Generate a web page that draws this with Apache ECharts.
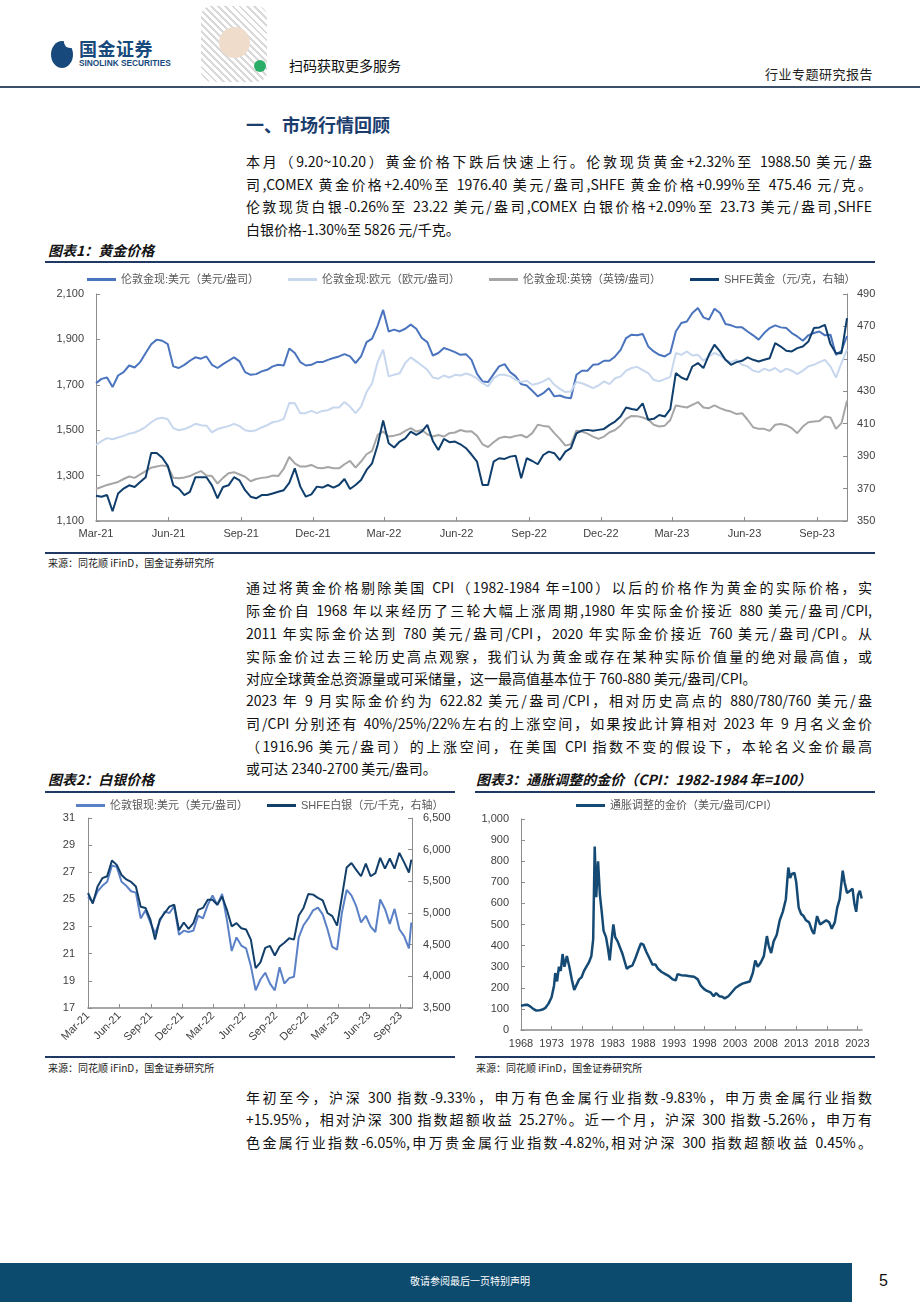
<!DOCTYPE html>
<html><head><meta charset="utf-8">
<script src="https://cdn.jsdelivr.net/npm/echarts@6/dist/echarts.min.js"></script>
<style>
body{margin:0;background:#fff;}
#page{position:relative;width:920px;height:1302px;overflow:hidden;background:#fff;font-family:"Noto Sans CJK SC","Noto Sans",sans-serif;color:#000;}
.abs{position:absolute;}
.ln{position:absolute;left:246px;width:626px;height:22px;line-height:22px;font-size:14px;white-space:nowrap;text-align:justify;text-align-last:justify;color:#111;}
.ln.last{text-align-last:left;}
.ctitle{position:absolute;font-size:14px;font-weight:bold;font-style:italic;color:#111;height:20px;line-height:20px;}
.rule{position:absolute;height:2px;background:#1f3864;}
.src{position:absolute;font-size:10px;color:#222;height:14px;line-height:14px;}
.chart{position:absolute;}
</style></head>
<body><div id="page">
<!-- header -->
<div class="abs" style="left:51px;top:41px;width:22px;height:27px;border-radius:50%;background:#17497c;"></div>
<div class="abs" style="left:64px;top:38px;width:9px;height:10px;background:#fff;border-radius:0 0 0 6px;"></div>
<div class="abs" style="left:79px;top:37px;font-size:18px;font-weight:bold;color:#17497c;letter-spacing:0.5px;line-height:22px;">国金证券</div>
<div class="abs" style="left:79px;top:58px;font-size:8.3px;font-weight:bold;color:#17497c;line-height:10px;font-family:'Liberation Sans',sans-serif;">SINOLINK SECURITIES</div>
<div class="abs" style="left:201px;top:6px;width:66px;height:76px;border-radius:10px;background:repeating-linear-gradient(45deg,#bbb 0 2px,#fff 2px 5px),repeating-linear-gradient(-45deg,#999 0 1px,#fff 1px 4px);opacity:0.55;"></div>
<div class="abs" style="left:219px;top:27px;width:31px;height:31px;border-radius:50%;background:#f0dccb;"></div>
<div class="abs" style="left:254px;top:60px;width:12px;height:12px;border-radius:50%;background:#2aae67;"></div>
<div class="abs" style="left:289px;top:55px;font-size:14px;line-height:20px;color:#111;">扫码获取更多服务</div>
<div class="abs" style="left:765px;top:65px;font-size:13px;line-height:18px;color:#222;letter-spacing:0.5px;">行业专题研究报告</div>
<div class="abs" style="left:0;top:86px;width:920px;height:2px;background:#3b4f6b;"></div>

<!-- section -->
<div class="abs" style="left:246px;top:112px;font-size:18px;font-weight:bold;color:#1b3d6d;line-height:24px;">一、市场行情回顾</div>
<div class="ln" style="top:150px;">本月（9.20~10.20）黄金价格下跌后快速上行。伦敦现货黄金+2.32%至 1988.50 美元/盎</div>
<div class="ln" style="top:173px;">司,COMEX 黄金价格+2.40%至 1976.40 美元/盎司,SHFE 黄金价格+0.99%至 475.46 元/克。</div>
<div class="ln" style="top:195px;">伦敦现货白银-0.26%至 23.22 美元/盎司,COMEX 白银价格+2.09%至 23.73 美元/盎司,SHFE</div>
<div class="ln last" style="top:218px;">白银价格-1.30%至 5826 元/千克。</div>

<div class="ctitle" style="left:48px;top:240px;">图表1：黄金价格</div>
<div class="rule" style="left:45px;top:261px;width:830px;"></div>
<div id="c1" class="chart" style="left:40px;top:265px;width:840px;height:285px;"></div>
<div class="rule" style="left:45px;top:552px;width:830px;"></div>
<div class="src" style="left:48px;top:556px;">来源：同花顺 iFinD，国金证券研究所</div>

<div class="ln" style="top:576px;">通过将黄金价格剔除美国 CPI（1982-1984 年=100）以后的价格作为黄金的实际价格，实</div>
<div class="ln" style="top:599px;">际金价自 1968 年以来经历了三轮大幅上涨周期,1980 年实际金价接近 880 美元/盎司/CPI,</div>
<div class="ln" style="top:622px;">2011 年实际金价达到 780 美元/盎司/CPI，2020 年实际金价接近 760 美元/盎司/CPI。从</div>
<div class="ln" style="top:645px;">实际金价过去三轮历史高点观察，我们认为黄金或存在某种实际价值量的绝对最高值，或</div>
<div class="ln last" style="top:667px;">对应全球黄金总资源量或可采储量，这一最高值基本位于 760-880 美元/盎司/CPI。</div>

<div class="ln" style="top:689px;">2023 年 9 月实际金价约为 622.82 美元/盎司/CPI，相对历史高点的 880/780/760 美元/盎</div>
<div class="ln" style="top:712px;">司/CPI 分别还有 40%/25%/22%左右的上涨空间，如果按此计算相对 2023 年 9 月名义金价</div>
<div class="ln" style="top:735px;">（1916.96 美元/盎司）的上涨空间，在美国 CPI 指数不变的假设下，本轮名义金价最高</div>
<div class="ln last" style="top:757px;">或可达 2340-2700 美元/盎司。</div>

<div class="ctitle" style="left:48px;top:769px;">图表2：白银价格</div>
<div class="ctitle" style="left:476px;top:769px;">图表3：通胀调整的金价（CPI：1982-1984 年=100）</div>
<div class="rule" style="left:45px;top:791px;width:410px;"></div>
<div class="rule" style="left:475px;top:791px;width:400px;"></div>
<div id="c2" class="chart" style="left:40px;top:795px;width:420px;height:260px;"></div>
<div id="c3" class="chart" style="left:470px;top:795px;width:410px;height:260px;"></div>
<div class="rule" style="left:45px;top:1056px;width:410px;"></div>
<div class="rule" style="left:475px;top:1056px;width:400px;"></div>
<div class="src" style="left:48px;top:1061px;">来源：同花顺 iFinD，国金证券研究所</div>
<div class="src" style="left:476px;top:1061px;">来源：同花顺 iFinD，国金证券研究所</div>

<div class="ln" style="top:1086px;">年初至今，沪深 300 指数-9.33%，申万有色金属行业指数-9.83%，申万贵金属行业指数</div>
<div class="ln" style="top:1108px;">+15.95%，相对沪深 300 指数超额收益 25.27%。近一个月，沪深 300 指数-5.26%，申万有</div>
<div class="ln" style="top:1131px;">色金属行业指数-6.05%,申万贵金属行业指数-4.82%,相对沪深 300 指数超额收益 0.45%。</div>

<!-- footer -->
<div class="abs" style="left:0;top:1263px;width:852px;height:39px;background:#0c4a6e;"></div>
<div class="abs" style="left:0;top:1274px;width:940px;text-align:center;font-size:10px;line-height:14px;color:#fff;">敬请参阅最后一页特别声明</div>
<div class="abs" style="left:879px;top:1270px;font-size:16px;line-height:22px;color:#111;font-family:'Liberation Sans',sans-serif;">5</div>
</div>
<script>
// ---------------- data ----------------
const goldDates = ['2021-03-01','2021-03-08','2021-03-15','2021-03-22','2021-03-29','2021-04-05','2021-04-12','2021-04-19','2021-04-26','2021-05-03',
'2021-05-10','2021-05-17','2021-05-24','2021-05-31','2021-06-07','2021-06-14','2021-06-21','2021-06-28','2021-07-05','2021-07-12',
'2021-07-19','2021-07-26','2021-08-02','2021-08-09','2021-08-16','2021-08-23','2021-08-30','2021-09-06','2021-09-13','2021-09-20',
'2021-09-27','2021-10-04','2021-10-11','2021-10-18','2021-10-25','2021-11-01','2021-11-08','2021-11-15','2021-11-22','2021-11-29',
'2021-12-06','2021-12-13','2021-12-20','2021-12-27','2022-01-03','2022-01-10','2022-01-17','2022-01-24','2022-01-31','2022-02-07',
'2022-02-14','2022-02-21','2022-02-28','2022-03-07','2022-03-14','2022-03-21','2022-03-28','2022-04-04','2022-04-11','2022-04-18',
'2022-04-25','2022-05-02','2022-05-09','2022-05-16','2022-05-23','2022-05-30','2022-06-06','2022-06-13','2022-06-20','2022-06-27',
'2022-07-04','2022-07-11','2022-07-18','2022-07-25','2022-08-01','2022-08-08','2022-08-15','2022-08-22','2022-08-29','2022-09-05',
'2022-09-12','2022-09-19','2022-09-26','2022-10-03','2022-10-10','2022-10-17','2022-10-24','2022-10-31','2022-11-07','2022-11-14',
'2022-11-21','2022-11-28','2022-12-05','2022-12-12','2022-12-19','2022-12-26','2023-01-02','2023-01-09','2023-01-16','2023-01-23',
'2023-01-30','2023-02-06','2023-02-13','2023-02-20','2023-02-27','2023-03-06','2023-03-13','2023-03-20','2023-03-27','2023-04-03',
'2023-04-10','2023-04-17','2023-04-24','2023-05-01','2023-05-08','2023-05-15','2023-05-22','2023-05-29','2023-06-05','2023-06-12',
'2023-06-19','2023-06-26','2023-07-03','2023-07-10','2023-07-17','2023-07-24','2023-07-31','2023-08-07','2023-08-14','2023-08-21',
'2023-08-28','2023-09-04','2023-09-11','2023-09-18','2023-09-25','2023-10-02','2023-10-09'];
const goldUSD = [1707,1726,1732,1690,1741,1756,1785,1776,1800,1840,
1879,1899,1894,1879,1781,1774,1788,1806,1821,1815,
1825,1788,1774,1791,1806,1821,1803,1756,1744,1747,
1759,1766,1781,1788,1785,1860,1840,1800,1785,1788,
1800,1800,1810,1818,1825,1835,1825,1796,1825,1888,
1903,1960,2030,1935,1943,1935,1947,1965,1947,1906,
1888,1829,1840,1862,1854,1844,1832,1835,1810,1748,
1715,1712,1747,1781,1791,1756,1737,1703,1697,1674,
1649,1663,1685,1649,1653,1644,1641,1744,1762,1762,
1788,1791,1806,1806,1825,1854,1906,1921,1918,1924,
1869,1847,1832,1825,1840,1935,1972,1979,2016,2038,
1997,1987,2035,2016,1968,1962,1953,1953,1935,1918,
1899,1928,1950,1962,1953,1950,1928,1913,1894,1918,
1928,1935,1918,1921,1832,1850,1915];
const goldEUR = [1435,1452,1465,1460,1468,1475,1485,1490,1500,1515,
1535,1550,1555,1548,1509,1500,1505,1515,1528,1522,
1520,1490,1505,1512,1518,1528,1518,1500,1495,1500,
1512,1522,1535,1540,1550,1620,1619,1575,1575,1585,
1575,1585,1588,1600,1600,1624,1604,1575,1604,1668,
1707,1800,1855,1737,1744,1751,1796,1821,1803,1785,
1766,1732,1727,1741,1732,1744,1741,1750,1742,1728,
1707,1693,1729,1744,1744,1737,1722,1712,1718,1700,
1706,1715,1729,1700,1682,1668,1671,1712,1707,1697,
1685,1697,1715,1703,1729,1737,1762,1774,1779,1765,
1751,1722,1715,1725,1735,1840,1832,1847,1829,1832,
1806,1825,1840,1829,1810,1800,1810,1788,1781,1762,
1756,1771,1762,1774,1756,1771,1762,1747,1762,1781,
1788,1800,1810,1781,1732,1796,1855];
const goldGBP = [1241,1250,1259,1265,1272,1285,1296,1290,1305,1320,
1335,1340,1345,1340,1290,1288,1292,1298,1310,1320,
1300,1298,1265,1290,1310,1315,1305,1295,1275,1285,
1290,1293,1300,1298,1330,1382,1354,1340,1340,1347,
1335,1332,1338,1332,1332,1350,1365,1335,1362,1394,
1409,1479,1494,1472,1476,1482,1497,1509,1494,1501,
1482,1472,1479,1472,1487,1490,1501,1494,1495,1475,
1438,1426,1447,1465,1471,1468,1475,1479,1468,1487,
1524,1519,1516,1487,1462,1432,1438,1498,1494,1485,
1472,1462,1472,1491,1501,1521,1550,1563,1562,1556,
1547,1524,1516,1520,1545,1609,1604,1600,1612,1624,
1600,1597,1609,1597,1588,1582,1571,1575,1546,1513,
1506,1506,1497,1524,1527,1522,1509,1487,1516,1535,
1538,1541,1560,1556,1506,1531,1630];
const goldSHFE = [365.6,365,366,356,367,370,372,371,374,377,
392,392,389,384,372,370,366,368,377,377,
377,372,364,371,372,377,375,369,365,364,
366,366,367,368,369,373.5,382.5,371.2,365,366.4,
371.2,370.6,372.2,370.6,372.2,375.9,369.7,372.2,375.3,381.5,
385.6,396.9,412,398,395.3,399,401,405.1,403.1,405.1,
409.3,399.4,393.8,400.6,398.6,399,397.3,394.9,391,386.6,
372.2,372.2,386.6,388.7,388.3,389.7,390.3,376.3,388.7,387,
385,390.7,392.8,391.8,387.6,392.8,394.9,404.1,405.8,406.2,
405.6,406.2,406.8,409.3,411.3,414.4,420,419.1,418.5,422.6,
412.4,413,415.4,414.4,419,441.2,438.5,437,445.3,447.4,
444.3,452.5,458.7,454.6,449.4,446.3,448,448.8,450.9,449.4,
448.4,449.4,450.4,459.7,457.6,455,454.6,456.6,457.6,460.7,
469,469.4,471,459.1,453.5,453.5,475.1];

const silverDates = ['2021-03-01','2021-03-15','2021-03-29','2021-04-12','2021-04-26','2021-05-10','2021-05-24','2021-06-07','2021-06-21','2021-07-05',
'2021-07-19','2021-08-02','2021-08-16','2021-08-30','2021-09-13','2021-09-27','2021-10-11','2021-10-25','2021-11-08','2021-11-22',
'2021-12-06','2021-12-20','2022-01-03','2022-01-17','2022-01-31','2022-02-14','2022-02-28','2022-03-14','2022-03-28','2022-04-11',
'2022-04-25','2022-05-09','2022-05-23','2022-06-06','2022-06-20','2022-07-04','2022-07-18','2022-08-01','2022-08-15','2022-08-29',
'2022-09-12','2022-09-26','2022-10-10','2022-10-24','2022-11-07','2022-11-21','2022-12-05','2022-12-19','2023-01-02','2023-01-16',
'2023-01-30','2023-02-13','2023-02-27','2023-03-13','2023-03-27','2023-04-10','2023-04-24','2023-05-08','2023-05-22','2023-06-05',
'2023-06-19','2023-07-03','2023-07-17','2023-07-31','2023-08-14','2023-08-28','2023-09-11','2023-09-25','2023-10-02'];
const silverUSD = [25.2,24.8,25.6,26.0,26.3,27.5,27.4,26.3,26.0,25.6,
25.5,23.6,24.2,23.3,22.5,23.4,24.1,24.0,24.5,22.4,
22.7,22.6,22.7,23.8,23.6,24.6,25.3,24.6,25.4,23.5,
21.2,22.2,21.6,21.4,20.1,18.3,19.1,19.6,18.8,18.3,
20.0,18.8,19.2,19.3,22.2,23.1,23.6,24.2,24.4,23.9,
22.8,21.5,21.3,24.0,25.7,25.3,24.5,23.3,23.8,23.0,
22.6,25.0,24.3,23.2,24.3,22.8,22.3,21.4,23.3];
const silverSHFE = [5316,5150,5420,5550,5580,5830,5760,5600,5530,5490,
5420,5100,5080,4900,4580,4900,5000,5100,5130,4730,
4850,4750,4840,5050,5080,5210,5210,5130,5260,5050,
4790,4840,4760,4740,4580,4130,4220,4450,4480,4330,
4470,4530,4600,4580,4960,5080,5300,5290,5240,5200,
5000,4950,4800,5250,5720,5790,5680,5580,5780,5580,
5630,5870,5700,5860,5700,5950,5800,5640,5842];

const cpiYears = [1968.0,1968.5,1969.0,1969.5,1970.0,1970.5,1971.0,1971.5,1972.0,1972.5,
1973.0,1973.4,1973.6,1973.9,1974.2,1974.5,1974.8,1975.1,1975.5,1975.9,
1976.3,1976.7,1977.1,1977.5,1977.9,1978.3,1978.7,1979.1,1979.5,1979.8,
1980.05,1980.3,1980.6,1980.9,1981.2,1981.5,1981.9,1982.2,1982.5,1982.8,
1983.1,1983.4,1983.8,1984.2,1984.6,1985.0,1985.3,1985.7,1986.2,1986.7,
1987.2,1987.6,1988.0,1988.5,1989.0,1989.5,1990.0,1990.4,1991.0,1991.6,
1992.2,1992.8,1993.3,1993.6,1994.2,1994.9,1995.6,1996.3,1996.9,1997.4,
1997.9,1998.4,1999.0,1999.5,1999.9,2000.4,2000.9,2001.3,2001.9,2002.5,
2003.1,2003.6,2004.2,2004.8,2005.4,2005.9,2006.3,2006.7,2007.2,2007.7,
2008.2,2008.5,2008.9,2009.3,2009.8,2010.3,2010.8,2011.3,2011.7,2012.0,
2012.3,2012.7,2013.0,2013.4,2013.8,2014.2,2014.6,2015.1,2015.6,2015.9,
2016.4,2016.9,2017.4,2017.9,2018.4,2018.8,2019.3,2019.7,2020.1,2020.6,
2020.9,2021.3,2021.8,2022.2,2022.5,2022.8,2023.1,2023.4,2023.7];
const cpiGold = [115,118,120,112,100,92,93,97,105,125,
155,210,270,230,300,280,360,300,350,300,
240,190,215,240,250,280,300,320,350,430,
870,630,800,640,560,470,440,390,330,420,
500,440,420,390,360,320,290,300,305,340,
380,410,405,370,340,310,310,290,275,265,
255,240,235,265,260,258,255,252,240,210,
195,185,178,160,175,160,158,150,160,180,
200,210,220,225,230,270,330,300,320,350,
445,400,365,420,450,520,560,620,770,720,
740,745,700,580,550,540,520,510,470,455,
540,500,510,520,510,480,510,580,620,755,
700,650,660,670,600,560,640,660,623];

const quarterTickDates = ['2021-03-01','2021-06-01','2021-09-01','2021-12-01','2022-03-01','2022-06-01','2022-09-01','2022-12-01','2023-03-01','2023-06-01','2023-09-01'];
const quarterTickLabels = ['Mar-21','Jun-21','Sep-21','Dec-21','Mar-22','Jun-22','Sep-22','Dec-22','Mar-23','Jun-23','Sep-23'];
const goldLeftTicks = [1100,1300,1500,1700,1900,2100];
const goldRightTicks = [350,370,390,410,430,450,470,490];
const silverLeftTicks = [17,19,21,23,25,27,29,31];
const cpiYearTicks = [1968,1973,1978,1983,1988,1993,1998,2003,2008,2013,2018,2023];

const names1 = ['伦敦金现:美元（美元/盎司）','伦敦金现:欧元（欧元/盎司）','伦敦金现:英镑（英镑/盎司）','SHFE黄金（元/克，右轴）'];
const names2 = ['伦敦银现:美元（美元/盎司）','SHFE白银（元/千克，右轴）'];
const names3 = ['通胀调整的金价（美元/盎司/CPI）'];

// ---------------- helpers ----------------
const FONT = '"Liberation Sans", Arial, "Noto Sans CJK SC", sans-serif';
const BASE = Date.UTC(2021,2,1);
function dayOf(s){const p=s.split('-').map(Number);return (Date.UTC(p[0],p[1]-1,p[2])-BASE)/86400000;}
const qDays = quarterTickDates.map(dayOf);
function qLabel(v){const i=qDays.findIndex(d=>Math.abs(d-v)<0.5);return i<0?'':quarterTickLabels[i];}
function pairs(xs,ys){return xs.map((x,i)=>[x,ys[i]]);}
const fmtNum = v => Number(v).toLocaleString('en-US');
const AX = '#8c8c8c', LBL = '#404040';

function legendItem(name,left,top){
  return {data:[name],left:left,top:top,icon:'rect',itemWidth:29,itemHeight:3,padding:0,
    textStyle:{fontSize:11,color:'#595959',fontFamily:FONT}};
}
function yAx(opt){
  return Object.assign({type:'value',splitLine:{show:false},
    axisLine:{show:true,lineStyle:{color:AX,width:1}},
    axisTick:{show:true,inside:true,length:4,lineStyle:{color:AX}},
    axisLabel:{color:LBL,fontSize:11,fontFamily:FONT}},opt);
}

// ---------------- chart 1 ----------------
const c1 = echarts.init(document.getElementById('c1'));
const gDays = goldDates.map(dayOf);
c1.setOption({
  animation:false, textStyle:{fontFamily:FONT},
  grid:{left:56,right:33,top:29,bottom:29},
  legend:[legendItem(names1[0],47,9),legendItem(names1[1],248,9),legendItem(names1[2],449,9),legendItem(names1[3],650,9)],
  xAxis:{type:'value',min:0,max:dayOf('2023-10-09'),splitLine:{show:false},
    axisLine:{lineStyle:{color:AX,width:1.5}},
    axisTick:{inside:true,length:4,customValues:qDays,lineStyle:{color:AX}},
    axisLabel:{customValues:qDays,formatter:qLabel,color:LBL,fontSize:11,margin:7}},
  yAxis:[
    yAx({min:1100,max:2100,position:'left',axisTick:{show:true,inside:true,length:4,customValues:goldLeftTicks,lineStyle:{color:AX}},
      axisLabel:{customValues:goldLeftTicks,formatter:fmtNum,color:LBL,fontSize:11,margin:12}}),
    yAx({min:350,max:490,position:'right',axisTick:{show:true,inside:true,length:4,customValues:goldRightTicks,lineStyle:{color:AX}},
      axisLabel:{customValues:goldRightTicks,formatter:fmtNum,color:LBL,fontSize:11,margin:10}})
  ],
  series:[
    {name:names1[0],type:'line',showSymbol:false,data:pairs(gDays,goldUSD),color:'#4a74bd',lineStyle:{width:2}},
    {name:names1[1],type:'line',showSymbol:false,data:pairs(gDays,goldEUR),color:'#c7d7ee',lineStyle:{width:2}},
    {name:names1[2],type:'line',showSymbol:false,data:pairs(gDays,goldGBP),color:'#a6a6a6',lineStyle:{width:2}},
    {name:names1[3],type:'line',showSymbol:false,yAxisIndex:1,data:pairs(gDays,goldSHFE),color:'#0f3e6c',lineStyle:{width:2}}
  ]
});

// ---------------- chart 2 ----------------
const c2 = echarts.init(document.getElementById('c2'));
const sDays = silverDates.map(dayOf);
c2.setOption({
  animation:false, textStyle:{fontFamily:FONT},
  grid:{left:48,right:48,top:23,bottom:47},
  legend:[legendItem(names2[0],36,5),legendItem(names2[1],227,5)],
  xAxis:{type:'value',min:0,max:dayOf('2023-10-04'),splitLine:{show:false},
    axisLine:{lineStyle:{color:AX,width:1.5}},
    axisTick:{inside:true,length:4,customValues:qDays,lineStyle:{color:AX}},
    axisLabel:{customValues:qDays,formatter:qLabel,rotate:45,color:LBL,fontSize:11,margin:6}},
  yAxis:[
    yAx({min:17,max:31,position:'left',axisTick:{show:true,inside:true,length:4,customValues:silverLeftTicks,lineStyle:{color:AX}},
      axisLabel:{customValues:silverLeftTicks,color:LBL,fontSize:11,margin:13}}),
    yAx({min:3500,max:6500,interval:500,position:'right',axisLabel:{formatter:fmtNum,color:LBL,fontSize:11,margin:11}})
  ],
  series:[
    {name:names2[0],type:'line',showSymbol:false,data:pairs(sDays,silverUSD),color:'#5a80c6',lineStyle:{width:2}},
    {name:names2[1],type:'line',showSymbol:false,yAxisIndex:1,data:pairs(sDays,silverSHFE),color:'#123f6a',lineStyle:{width:2}}
  ]
});

// ---------------- chart 3 ----------------
const c3 = echarts.init(document.getElementById('c3'));
c3.setOption({
  animation:false, textStyle:{fontFamily:FONT},
  grid:{left:51,right:18,top:24,bottom:25},
  legend:[legendItem(names3[0],106,5)],
  xAxis:{type:'value',min:1968,max:2023.75,splitLine:{show:false},
    axisLine:{lineStyle:{color:AX,width:1.5}},
    axisTick:{inside:true,length:4,customValues:cpiYearTicks,lineStyle:{color:AX}},
    axisLabel:{customValues:cpiYearTicks,formatter:v=>String(v),color:LBL,fontSize:11,margin:8}},
  yAxis:yAx({min:0,max:1000,interval:100,axisLabel:{formatter:fmtNum,color:LBL,fontSize:11,margin:12}}),
  series:[{name:names3[0],type:'line',showSymbol:false,data:pairs(cpiYears,cpiGold),color:'#154a74',lineStyle:{width:2.5}}]
});
</script>
</body></html>
